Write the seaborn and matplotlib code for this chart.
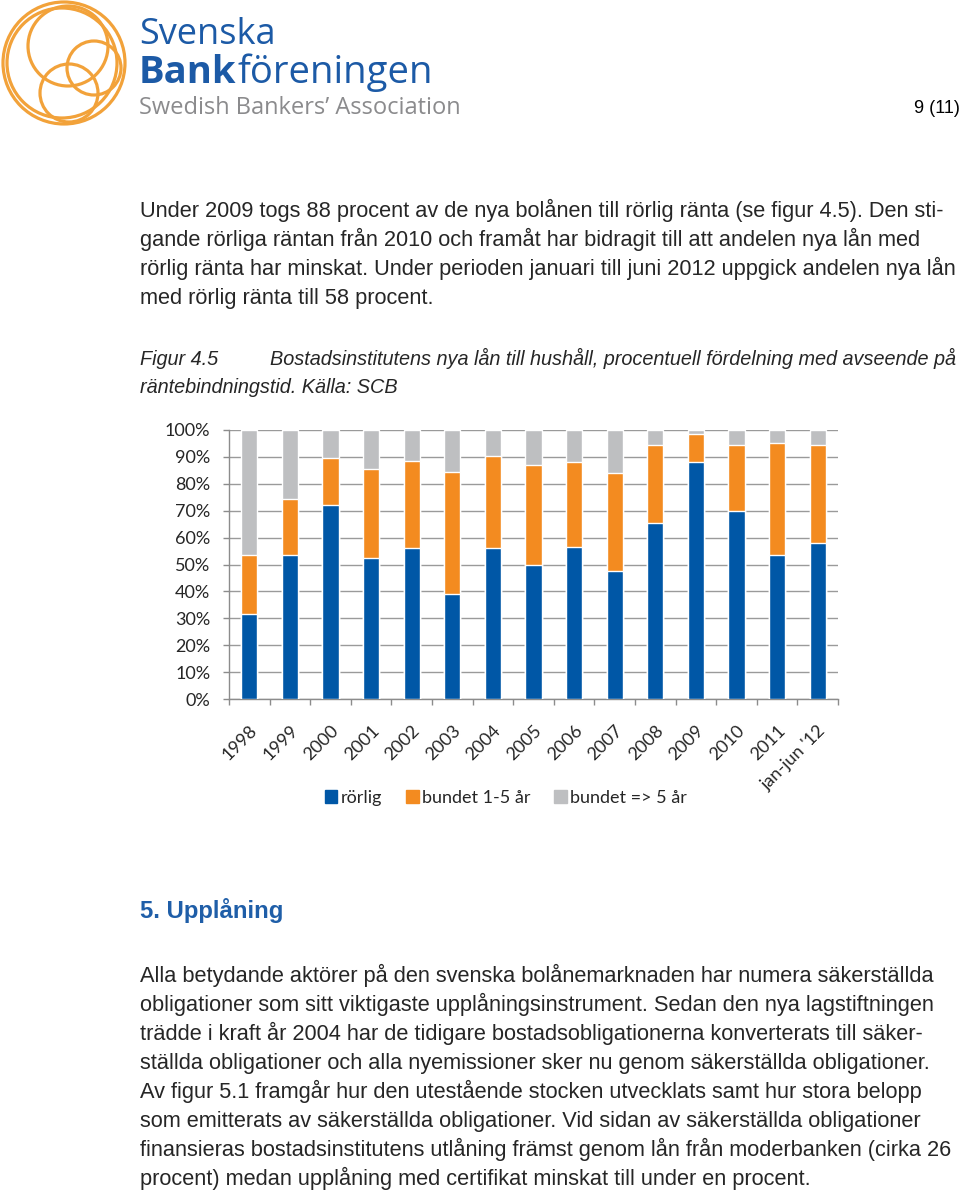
import matplotlib
matplotlib.use("Agg")
import matplotlib.pyplot as plt
import seaborn as sns
import pandas as pd
import numpy as np
from matplotlib.patches import Circle, Patch

# ---------------- data ----------------
categories = ["1998", "1999", "2000", "2001", "2002", "2003", "2004", "2005",
              "2006", "2007", "2008", "2009", "2010", "2011", "jan-jun '12"]
rorlig = [31.5, 53.5, 72, 52.5, 56, 39, 56, 50, 56.5, 47.5, 65.5, 88, 70, 53.5, 58]
bundet_1_5 = [22, 21, 17.5, 33, 32.5, 45.5, 34.5, 37, 31.5, 36.5, 29, 10.5, 24.5, 41.5, 36.5]
bundet_over_5 = [46.5, 25.5, 10.5, 14.5, 11.5, 15.5, 9.5, 13, 12, 16, 5.5, 1.5, 5.5, 5, 5.5]
series_names = ["rörlig", "bundet 1-5 år", "bundet => 5 år"]
ytick_values = [0, 10, 20, 30, 40, 50, 60, 70, 80, 90, 100]

BLUE = "#0057A6"
ORANGE = "#F38B20"
GREY = "#BEBFC1"
LOGO_BLUE = "#1C5AA6"
LOGO_ORANGE = "#F2A23A"

sns.set_style("white")
BODY = ["Liberation Sans", "DejaVu Sans"]
HEAD = ["Liberation Sans Narrow", "Liberation Sans", "DejaVu Sans"]
CHART = ["Lato", "DejaVu Sans"]
LOGO = ["Open Sans", "DejaVu Sans"]
plt.rcParams["font.family"] = BODY

W, H = 960, 1192
fig = plt.figure(figsize=(W / 100, H / 100), dpi=100)
page = fig.add_axes([0, 0, 1, 1], zorder=0)
page.set_xlim(0, W)
page.set_ylim(H, 0)
page.axis("off")

# ---------------- logo ----------------
for (cx, cy, r) in [(64, 63, 61), (62, 63, 55), (68, 46, 40), (94, 68, 27), (69, 93, 29)]:
    page.add_patch(Circle((cx, cy), r, fill=False, ec=LOGO_ORANGE, lw=2.3))

page.text(139, 44, "Svenska", fontsize=26, color=LOGO_BLUE, family=LOGO,
          va="baseline", ha="left")
t_bank = page.text(139, 83, "Bank", fontsize=27.5, color=LOGO_BLUE, fontweight="bold",
                   family=LOGO, va="baseline", ha="left")
fig.canvas.draw()
bb = t_bank.get_window_extent()
page.text(bb.x1 + 1, 83, "föreningen", fontsize=27.5, color=LOGO_BLUE,
          family=LOGO, va="baseline", ha="left")
page.text(139, 114, "Swedish Bankers\u2019 Association", fontsize=17, color="#8B8B8D",
          family=LOGO, va="baseline", ha="left")

page.text(960, 113, "9 (11)", fontsize=13, color="black",
          family=BODY, va="baseline", ha="right")

# ---------------- body text ----------------
lines1 = [
    "Under 2009 togs 88 procent av de nya bolånen till rörlig ränta (se figur 4.5). Den sti-",
    "gande rörliga räntan från 2010 och framåt har bidragit till att andelen nya lån med",
    "rörlig ränta har minskat. Under perioden januari till juni 2012 uppgick andelen nya lån",
    "med rörlig ränta till 58 procent.",
]
for i, s in enumerate(lines1):
    page.text(140, 217 + 29 * i, s, fontsize=15.7, va="baseline", ha="left")

page.text(140, 365, "Figur 4.5", fontsize=14.3, style="italic", va="baseline", ha="left")
page.text(270, 365, "Bostadsinstitutens nya lån till hushåll, procentuell fördelning med avseende på",
          fontsize=14.3, style="italic", va="baseline", ha="left")
page.text(140, 393, "räntebindningstid. Källa: SCB", fontsize=14.3, style="italic",
          va="baseline", ha="left")

page.text(140, 918, "5. Upplåning", fontsize=17.2, fontweight="bold", color="#1F5EA8",
          family=HEAD, va="baseline", ha="left")

lines2 = [
    "Alla betydande aktörer på den svenska bolånemarknaden har numera säkerställda",
    "obligationer som sitt viktigaste upplåningsinstrument. Sedan den nya lagstiftningen",
    "trädde i kraft år 2004 har de tidigare bostadsobligationerna konverterats till säker-",
    "ställda obligationer och alla nyemissioner sker nu genom säkerställda obligationer.",
    "Av figur 5.1 framgår hur den utestående stocken utvecklats samt hur stora belopp",
    "som emitterats av säkerställda obligationer. Vid sidan av säkerställda obligationer",
    "finansieras bostadsinstitutens utlåning främst genom lån från moderbanken (cirka 26",
    "procent) medan upplåning med certifikat minskat till under en procent.",
]
for i, s in enumerate(lines2):
    page.text(140, 982 + 29 * i, s, fontsize=15.7, va="baseline", ha="left")

# ---------------- chart ----------------
ax = fig.add_axes([229 / W, 1 - 699 / H, 609 / W, 269 / H], zorder=2)
df = pd.DataFrame({"cat": categories, "r": rorlig, "b15": bundet_1_5, "b5": bundet_over_5})
df["top_b15"] = df["r"] + df["b15"]
df["top_b5"] = df["top_b15"] + df["b5"]

bw = 0.4
sns.barplot(data=df, x="cat", y="top_b5", color=GREY, width=bw, ax=ax, saturation=1, zorder=3)
sns.barplot(data=df, x="cat", y="top_b15", color=ORANGE, width=bw, ax=ax, saturation=1, zorder=3)
sns.barplot(data=df, x="cat", y="r", color=BLUE, width=bw, ax=ax, saturation=1, zorder=3)

ax.set_ylim(0, 100)
ax.set_xlim(-0.5, len(categories) - 0.5)
ax.set_yticks(ytick_values)
ax.set_yticklabels([f"{v}%" for v in ytick_values], fontsize=13, family=CHART)
ax.yaxis.grid(True, color="#9A9A9A", lw=1.0, zorder=0)
ax.set_axisbelow(True)
ax.set_xlabel("")
ax.set_ylabel("")
for side in ["top", "right"]:
    ax.spines[side].set_visible(False)
for side in ["left", "bottom"]:
    ax.spines[side].set_color("#8C8C8C")
    ax.spines[side].set_linewidth(1.0)
ax.tick_params(axis="y", length=4.5, color="#8C8C8C", width=1, pad=9, left=True)
ax.set_xticks(range(len(categories)))
ax.set_xticklabels(categories, rotation=45, ha="right", va="top", rotation_mode="anchor",
                   fontsize=13, family=CHART)
ax.tick_params(axis="x", which="major", length=0, pad=17)
ax.set_xticks(np.arange(-0.5, len(categories), 1.0), minor=True)
ax.tick_params(axis="x", which="minor", length=4.5, color="#8C8C8C", width=1, bottom=True)

handles = [Patch(color=BLUE), Patch(color=ORANGE), Patch(color=GREY)]
fig.legend(handles, series_names, loc="center", bbox_to_anchor=(506 / W, 1 - 798 / H),
           ncol=3, frameon=False, handlelength=0.7, handleheight=0.7, handletextpad=0.2,
           columnspacing=1.3, prop={"family": CHART, "size": 13})

fig.savefig("out.png", dpi=100, facecolor="white")
